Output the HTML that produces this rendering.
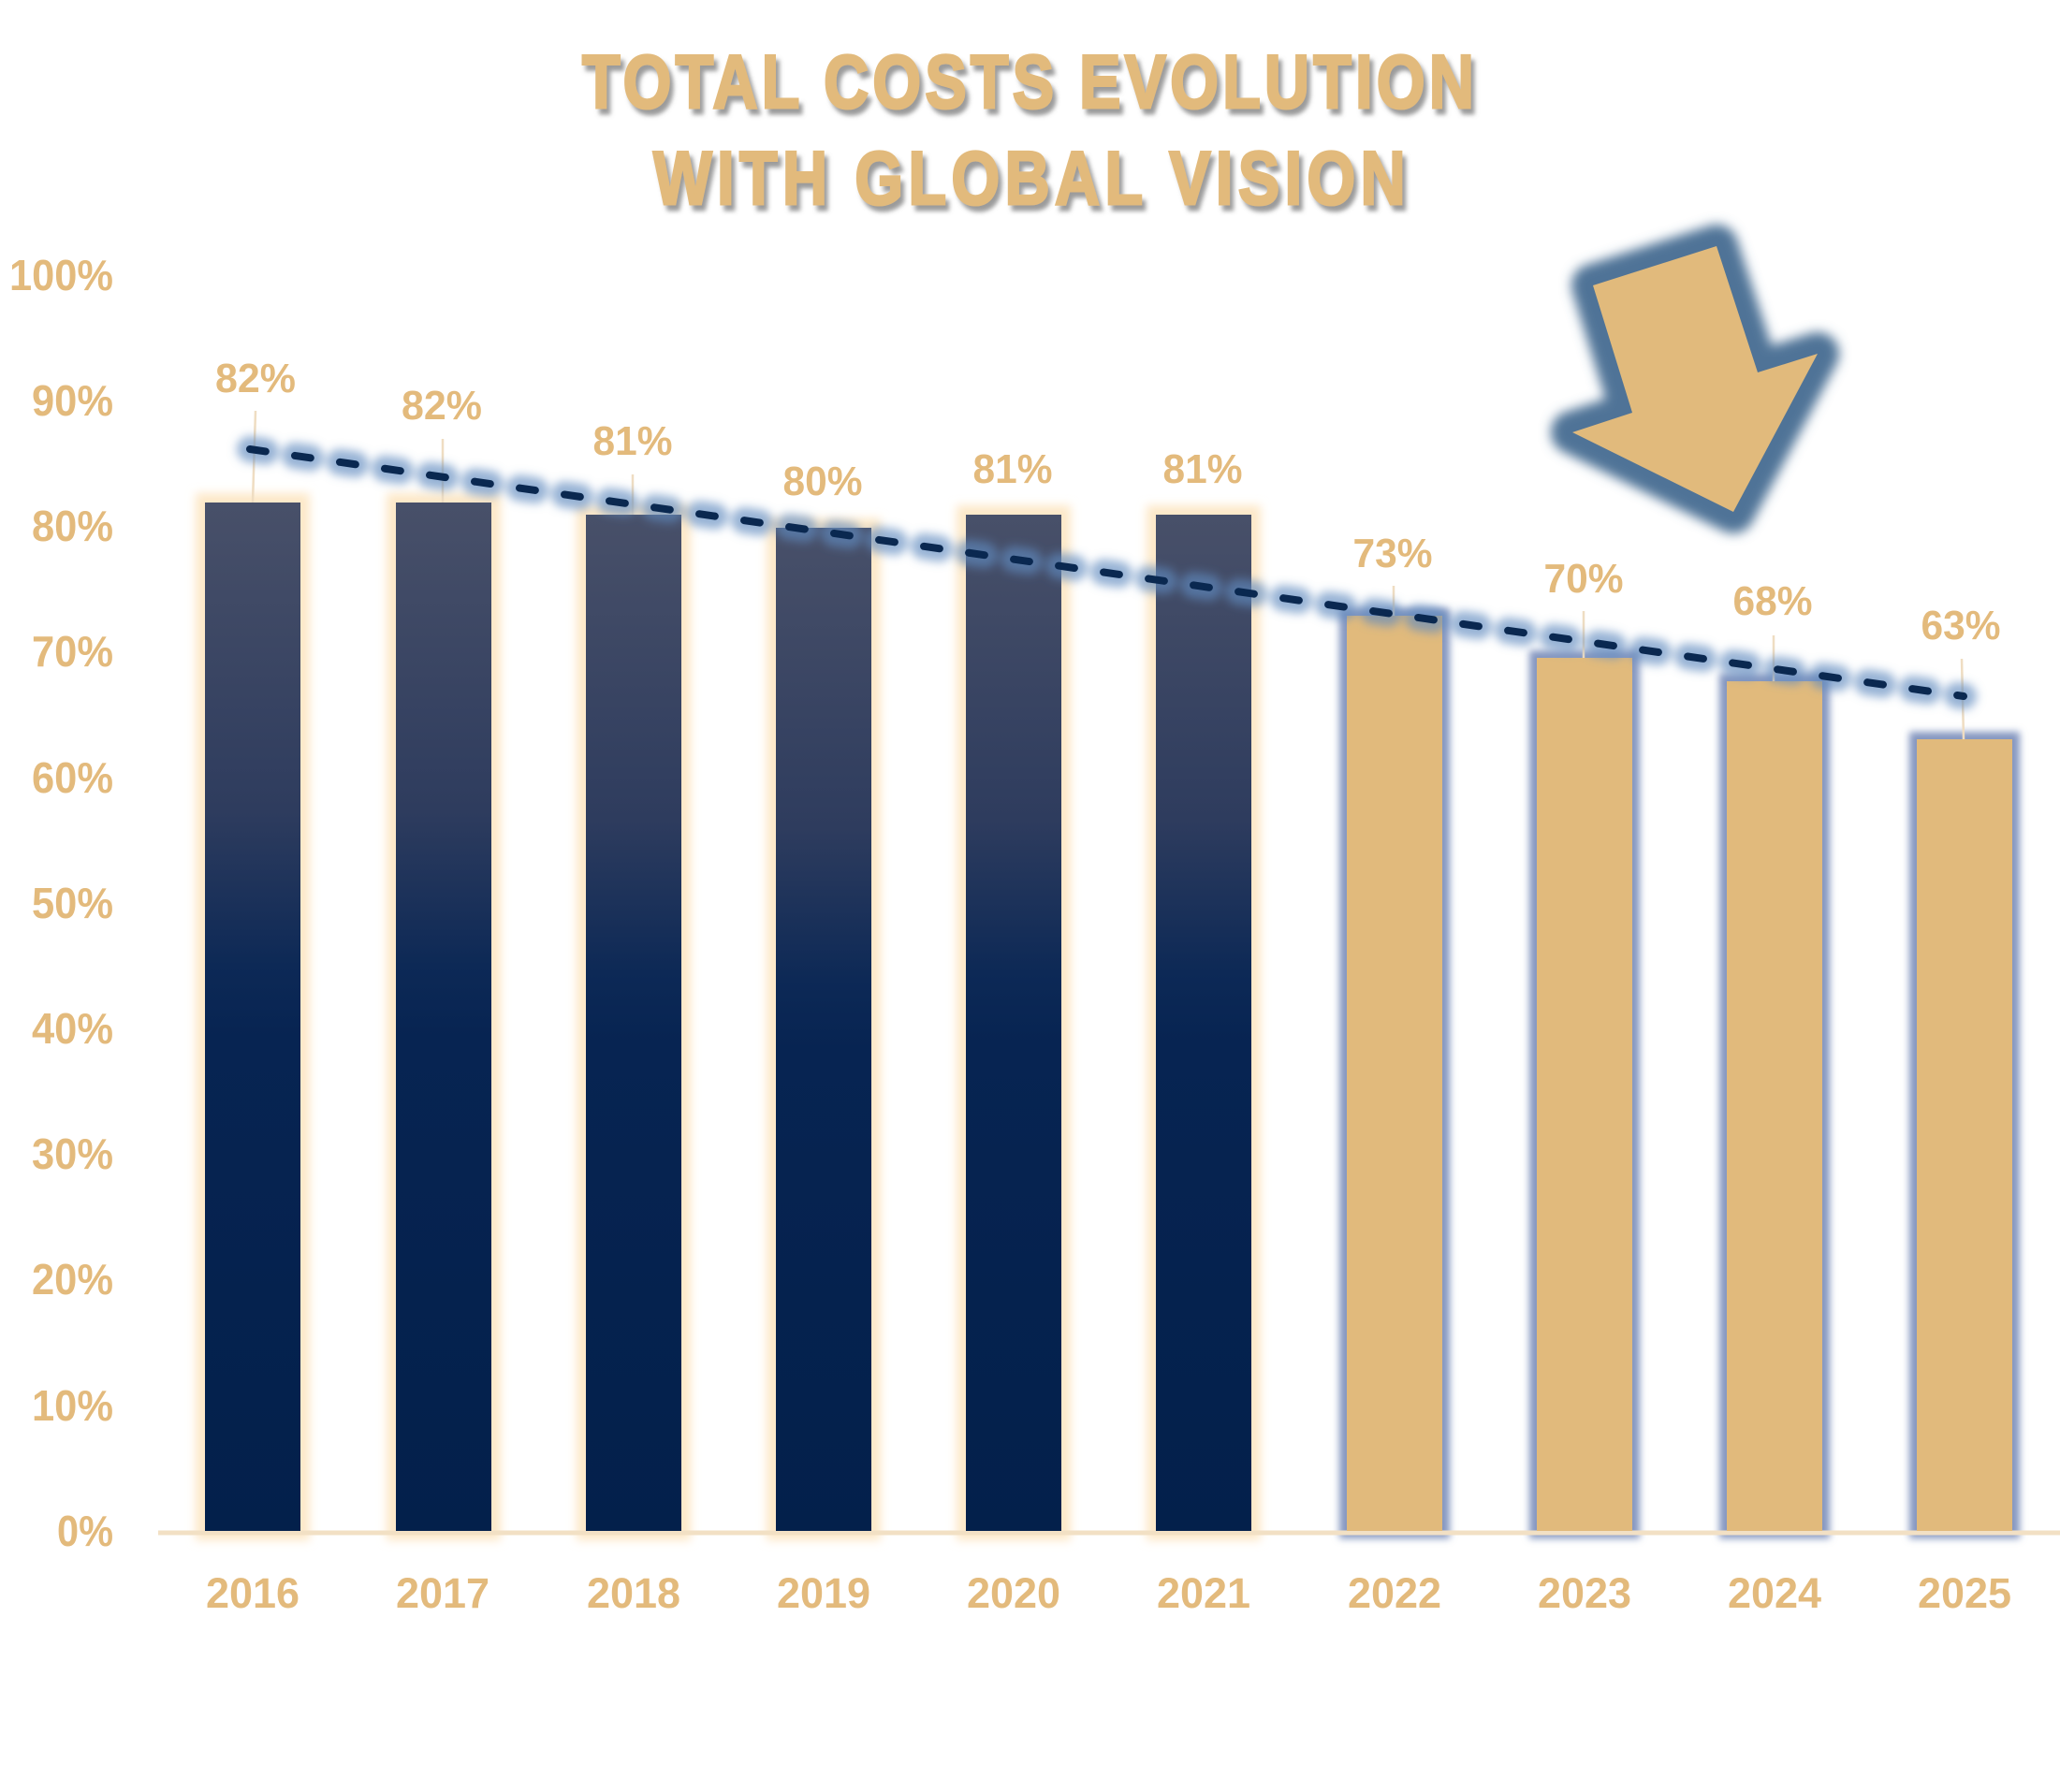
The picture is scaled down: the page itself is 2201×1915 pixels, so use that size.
<!DOCTYPE html>
<html>
<head>
<meta charset="utf-8">
<style>
  html,body{margin:0;padding:0;background:#ffffff;}
  svg{display:block;}
  text{font-family:"Liberation Sans", Arial, sans-serif;font-weight:bold;fill:#E3BA7C;}
</style>
</head>
<body>
<svg width="2201" height="1915" viewBox="0 0 2201 1915" xmlns="http://www.w3.org/2000/svg">
  <defs>
    <linearGradient id="navy" x1="0" y1="0" x2="0" y2="1">
      <stop offset="0" stop-color="#485069"/>
      <stop offset="0.3" stop-color="#2E3C5E"/>
      <stop offset="0.45" stop-color="#0D2956"/>
      <stop offset="0.52" stop-color="#072452"/>
      <stop offset="1" stop-color="#03204B"/>
    </linearGradient>
    <filter id="blur4" x="-20%" y="-20%" width="140%" height="140%"><feGaussianBlur stdDeviation="4"/></filter>
    <filter id="blur6" x="-20%" y="-20%" width="140%" height="140%"><feGaussianBlur stdDeviation="6"/></filter>
    <filter id="blur5" x="-20%" y="-50%" width="140%" height="200%"><feGaussianBlur stdDeviation="5"/></filter>
    <filter id="tshadow" x="-5%" y="-20%" width="110%" height="150%">
      <feGaussianBlur in="SourceAlpha" stdDeviation="2.5"/>
      <feOffset dx="4" dy="6" result="ob"/>
      <feFlood flood-color="#7a7a7a" flood-opacity="0.75"/>
      <feComposite in2="ob" operator="in"/>
      <feMerge><feMergeNode/><feMergeNode in="SourceGraphic"/></feMerge>
    </filter>
  </defs>

  <!-- Title -->
  <g filter="url(#tshadow)">
    <g transform="scale(0.82,1)">
      <text x="758.5" y="115" font-size="81" textLength="1162" lengthAdjust="spacing" stroke="#E2BA7B" stroke-width="3" style="fill:#E2BA7B">TOTAL COSTS EVOLUTION</text>
      <text x="851.2" y="218" font-size="81" textLength="980" lengthAdjust="spacing" stroke="#E2BA7B" stroke-width="3" style="fill:#E2BA7B">WITH GLOBAL VISION</text>
    </g>
  </g>

  <!-- Y axis labels -->
  <g font-size="46" text-anchor="end">
    <text x="121" y="310" textLength="111" lengthAdjust="spacingAndGlyphs">100%</text>
    <text x="121" y="444" textLength="87" lengthAdjust="spacingAndGlyphs">90%</text>
    <text x="121" y="578" textLength="87" lengthAdjust="spacingAndGlyphs">80%</text>
    <text x="121" y="712" textLength="87" lengthAdjust="spacingAndGlyphs">70%</text>
    <text x="121" y="847" textLength="87" lengthAdjust="spacingAndGlyphs">60%</text>
    <text x="121" y="981" textLength="87" lengthAdjust="spacingAndGlyphs">50%</text>
    <text x="121" y="1115" textLength="87" lengthAdjust="spacingAndGlyphs">40%</text>
    <text x="121" y="1249" textLength="87" lengthAdjust="spacingAndGlyphs">30%</text>
    <text x="121" y="1383" textLength="87" lengthAdjust="spacingAndGlyphs">20%</text>
    <text x="121" y="1518" textLength="87" lengthAdjust="spacingAndGlyphs">10%</text>
    <text x="121" y="1652" textLength="60" lengthAdjust="spacingAndGlyphs">0%</text>
  </g>

  <!-- Bar glows -->
  <g filter="url(#blur5)" fill="none" stroke="#FDE8C8" stroke-width="20">
    <rect x="219" y="537" width="102" height="1099"/>
    <rect x="423" y="537" width="102" height="1099"/>
    <rect x="626" y="550" width="102" height="1086"/>
    <rect x="829" y="564" width="102" height="1072"/>
    <rect x="1032" y="550" width="102" height="1086"/>
    <rect x="1235" y="550" width="102" height="1086"/>
  </g>
  <g filter="url(#blur4)" fill="none" stroke="#8496C0" stroke-width="16">
    <rect x="1439" y="658" width="102" height="978"/>
    <rect x="1642" y="703" width="102" height="933"/>
    <rect x="1845" y="728" width="102" height="908"/>
    <rect x="2048" y="790" width="102" height="846"/>
  </g>

  <!-- Axis line -->
  <line x1="169" y1="1638" x2="2201" y2="1638" stroke="#F2E0C4" stroke-width="5"/>

  <!-- Bars -->
  <g fill="url(#navy)">
    <rect x="219" y="537" width="102" height="1099"/>
    <rect x="423" y="537" width="102" height="1099"/>
    <rect x="626" y="550" width="102" height="1086"/>
    <rect x="829" y="564" width="102" height="1072"/>
    <rect x="1032" y="550" width="102" height="1086"/>
    <rect x="1235" y="550" width="102" height="1086"/>
  </g>
  <g fill="#E1BA7C">
    <rect x="1439" y="658" width="102" height="978"/>
    <rect x="1642" y="703" width="102" height="933"/>
    <rect x="1845" y="728" width="102" height="908"/>
    <rect x="2048" y="790" width="102" height="846"/>
  </g>

  <!-- Leader lines -->
  <g stroke="#EFDDC2" stroke-width="2.5">
    <line x1="273" y1="439" x2="270" y2="537"/>
    <line x1="473" y1="469" x2="473" y2="537"/>
    <line x1="676" y1="507" x2="676" y2="550"/>
    <line x1="1489" y1="626" x2="1489" y2="658"/>
    <line x1="1692" y1="653" x2="1692" y2="703"/>
    <line x1="1895" y1="679" x2="1895" y2="728"/>
    <line x1="2096" y1="704" x2="2098" y2="790"/>
  </g>

  <!-- Data labels -->
  <g font-size="44" text-anchor="middle">
    <text x="273" y="419" textLength="86" lengthAdjust="spacingAndGlyphs">82%</text>
    <text x="472" y="448" textLength="86" lengthAdjust="spacingAndGlyphs">82%</text>
    <text x="676" y="486" textLength="85" lengthAdjust="spacingAndGlyphs">81%</text>
    <text x="879" y="529" textLength="85" lengthAdjust="spacingAndGlyphs">80%</text>
    <text x="1082" y="516" textLength="85" lengthAdjust="spacingAndGlyphs">81%</text>
    <text x="1285" y="516" textLength="85" lengthAdjust="spacingAndGlyphs">81%</text>
    <text x="1488" y="606" textLength="85" lengthAdjust="spacingAndGlyphs">73%</text>
    <text x="1692" y="633" textLength="85" lengthAdjust="spacingAndGlyphs">70%</text>
    <text x="1894" y="657" textLength="85" lengthAdjust="spacingAndGlyphs">68%</text>
    <text x="2095" y="683" textLength="85" lengthAdjust="spacingAndGlyphs">63%</text>
  </g>

  <!-- Trend line glow + dashes -->
  <line x1="267" y1="480" x2="2098" y2="744" stroke="#5F8BBE" stroke-opacity="0.65" stroke-width="28" stroke-linecap="round" stroke-dasharray="17 31.5" filter="url(#blur5)"/>
  <line x1="267" y1="480" x2="2098" y2="744" stroke="#0A2850" stroke-width="8" stroke-linecap="round" stroke-dasharray="17 31.5"/>

  <!-- Arrow -->
  <polygon points="1702,305 1834,263 1878,398 1942,378 1852,547 1680,462 1744,441" fill="#4F7397" stroke="#4F7397" stroke-width="46" stroke-linejoin="round" filter="url(#blur6)"/>
  <polygon points="1702,305 1834,263 1878,398 1942,378 1852,547 1680,462 1744,441" fill="#E1BA7C"/>

  <!-- X axis labels -->
  <g font-size="45" text-anchor="middle">
    <text x="270" y="1718">2016</text>
    <text x="473" y="1718">2017</text>
    <text x="677" y="1718">2018</text>
    <text x="880" y="1718">2019</text>
    <text x="1083" y="1718">2020</text>
    <text x="1286" y="1718">2021</text>
    <text x="1490" y="1718">2022</text>
    <text x="1693" y="1718">2023</text>
    <text x="1896" y="1718">2024</text>
    <text x="2099" y="1718">2025</text>
  </g>
</svg>
</body>
</html>
